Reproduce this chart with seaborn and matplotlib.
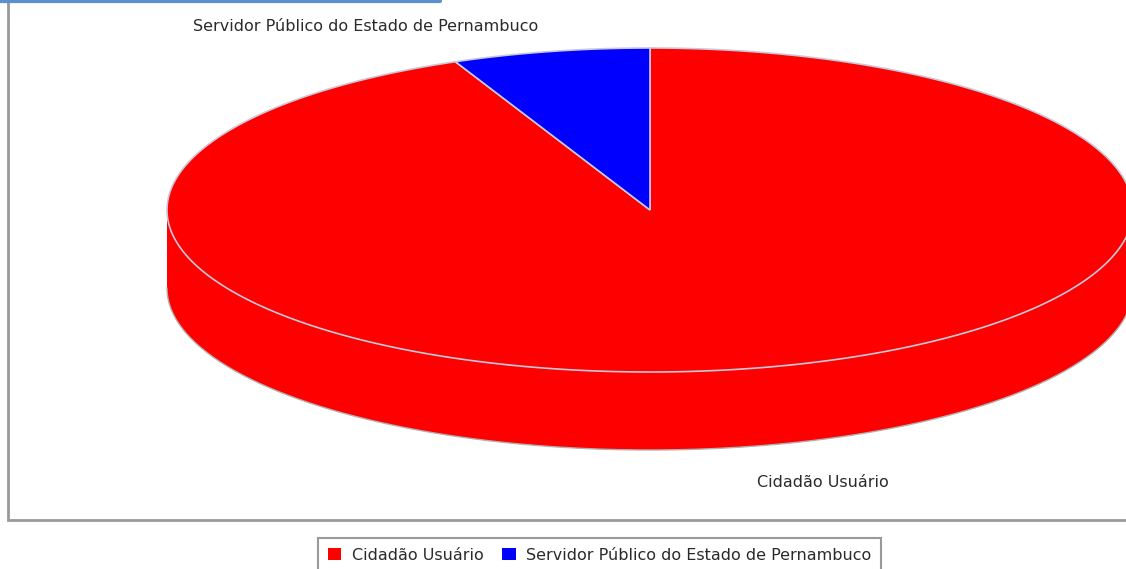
import numpy as np
import seaborn as sns
import matplotlib.pyplot as plt
from matplotlib.patches import Polygon, Patch

categories = ['Cidadão Usuário', 'Servidor Público do Estado de Pernambuco']
values = [93.4, 6.6]
colors = ['#ff0000', '#0000ff']

sns.set_theme(style='white')
plt.rcParams['font.family'] = ['DejaVu Sans']

W, H = 1126, 569
fig = plt.figure(figsize=(W / 100, H / 100), dpi=100)
ax = fig.add_axes([0, 0, 1, 1])
ax.set_xlim(0, W)
ax.set_ylim(H, 0)
ax.axis('off')

# 3D pie geometry (pixel space, y down)
cx, cy, a, b, depth = 650, 210, 483, 162, 78
edge = '#c8c8d8'


def ell(t, dy=0):
    return np.column_stack([cx + a * np.cos(t), cy - b * np.sin(t) + dy])


# slices go clockwise starting at 12 o'clock
fracs = np.array(values) / sum(values)
bounds = np.pi / 2 - 2 * np.pi * np.concatenate([[0], np.cumsum(fracs)])

# side wall (only the front half is visible)
for i in range(len(values)):
    t0, t1 = bounds[i + 1], bounds[i]
    for shift in (0, 2 * np.pi, -2 * np.pi):
        s0, s1 = max(t0 + shift, -np.pi), min(t1 + shift, 0)
        if s1 > s0:
            tt = np.linspace(s0, s1, 200)
            pts = np.vstack([ell(tt), ell(tt[::-1], depth)])
            ax.add_patch(Polygon(pts, closed=True, facecolor=colors[i],
                                 edgecolor='none', zorder=1))
tt = np.linspace(-np.pi, 0, 300)
ax.plot(*ell(tt, depth).T, color='#b0b0b0', lw=1, zorder=1.5)

# top faces
for i in range(len(values)):
    tt = np.linspace(bounds[i + 1], bounds[i], 400)
    pts = np.vstack([[cx, cy], ell(tt)])
    ax.add_patch(Polygon(pts, closed=True, facecolor=colors[i],
                         edgecolor=edge, lw=1.2, zorder=2))

# slice labels
fs = 11.5
for i, name in enumerate(categories):
    m = (bounds[i] + bounds[i + 1]) / 2
    px, py = ell(np.array([m]))[0]
    if np.sin(m) < 0:
        py = py + depth + 36
    else:
        py = py - 25
    if np.cos(m) < 0:
        ax.text(px - 12, py, name, ha='right', va='center', fontsize=fs, color='#2a2a2a')
    else:
        ax.text(px + 8, py, name, ha='left', va='center', fontsize=fs, color='#2a2a2a')

# plot frame and top bar
ax.plot([8, 8, W], [0, 520, 520], color='#999999', lw=2, zorder=0, solid_joinstyle='miter')
ax.plot([0, 440], [1, 1], color='#5b8fd0', lw=3, zorder=0)

handles = [Patch(facecolor=c, edgecolor='none') for c in colors]
leg = fig.legend(handles, categories, loc='upper left',
                 bbox_to_anchor=(318 / W, 1 - 538 / H), frameon=True,
                 fancybox=False, edgecolor='#808080', fontsize=fs,
                 ncol=2, handlelength=0.85, handleheight=0.85, handletextpad=0.65,
                 columnspacing=1.2, borderpad=0.6, borderaxespad=0)
leg.get_frame().set_linewidth(1.5)
for t in leg.get_texts():
    t.set_color('#2a2a2a')

fig.savefig('out.png', dpi=100)
